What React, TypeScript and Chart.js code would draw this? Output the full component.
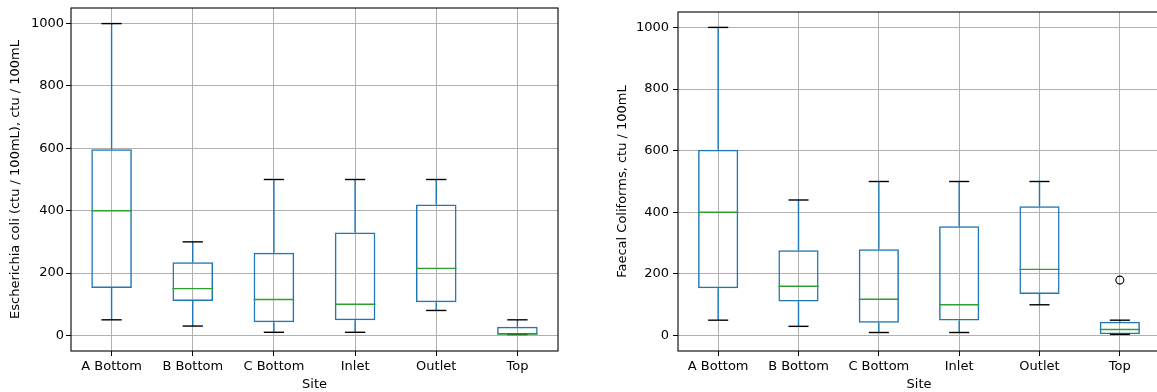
import { useEffect, useRef } from 'react';
import { Chart, registerables } from 'chart.js';

Chart.register(...registerables);

// Sampling sites along the x axis
const sites = ['A Bottom', 'B Bottom', 'C Bottom', 'Inlet', 'Outlet', 'Top'];

// Escherichia coli box statistics per site (ctu / 100mL)
const ecoliLow = [50, 30, 10, 10, 80, 3];
const ecoliQ1 = [152, 110, 42, 49, 106, 3];
const ecoliMedian = [400, 150, 115, 100, 215, 4];
const ecoliQ3 = [597, 235, 265, 330, 420, 28];
const ecoliHigh = [1000, 300, 500, 500, 500, 50];

// Faecal coliform box statistics per site (ctu / 100mL)
const faecalLow = [50, 30, 10, 10, 100, 4];
const faecalQ1 = [154, 111, 42, 49, 135, 4];
const faecalMedian = [400, 160, 118, 100, 215, 20];
const faecalQ3 = [603, 277, 280, 355, 420, 45];
const faecalHigh = [1000, 440, 500, 500, 500, 50];
const faecalOutliers = [{ x: 'Top', y: 180 }];

// Shared value axis
const yTickValues = [0, 200, 400, 600, 800, 1000];
const yMin = -50;
const yMax = 1050;

const BLUE = '#1f77b4';
const GREEN = '#2ca02c';
const CAP = '#000000';
const GRID = '#b0b0b0';
const FONT = 'DejaVu Sans';

type Stats = {
  low: number[];
  q1: number[];
  median: number[];
  q3: number[];
  high: number[];
};

// Draws whiskers, caps and medians on top of the floating-bar boxes
function boxWhiskerPlugin(stats: Stats) {
  return {
    id: 'boxWhiskers',
    afterDatasetsDraw(chart: any) {
      const { ctx, scales } = chart;
      const x = scales.x;
      const y = scales.y;
      const meta = chart.getDatasetMeta(0);
      const seg = (x1: number, y1: number, x2: number, y2: number, color: string) => {
        ctx.beginPath();
        ctx.strokeStyle = color;
        ctx.moveTo(x1, y1);
        ctx.lineTo(x2, y2);
        ctx.stroke();
      };
      ctx.save();
      ctx.lineWidth = 1.4;
      ctx.lineCap = 'butt';
      stats.median.forEach((_, i) => {
        const cx = x.getPixelForValue(i);
        const half = meta.data[i].width / 2;
        const capHalf = half / 2;
        const pLow = y.getPixelForValue(stats.low[i]);
        const pQ1 = y.getPixelForValue(stats.q1[i]);
        const pMed = y.getPixelForValue(stats.median[i]);
        const pQ3 = y.getPixelForValue(stats.q3[i]);
        const pHigh = y.getPixelForValue(stats.high[i]);
        seg(cx, pQ3, cx, pHigh, BLUE);
        seg(cx, pQ1, cx, pLow, BLUE);
        seg(cx - capHalf, pHigh, cx + capHalf, pHigh, CAP);
        seg(cx - capHalf, pLow, cx + capHalf, pLow, CAP);
        seg(cx - half, pMed, cx + half, pMed, GREEN);
      });
      ctx.restore();
    },
    afterDraw(chart: any) {
      const { ctx, chartArea } = chart;
      ctx.save();
      ctx.strokeStyle = '#000';
      ctx.lineWidth = 1.1;
      ctx.strokeRect(chartArea.left, chartArea.top, chartArea.right - chartArea.left, chartArea.bottom - chartArea.top);
      ctx.restore();
    },
  };
}

type PanelProps = {
  stats: Stats;
  outliers: { x: string; y: number }[];
  yTitle: string;
  axisWidth: number;
  titleGap: number;
  tickPad: number;
  padTop: number;
  padRight: number;
  width: number;
  left: number;
};

function BoxPanel(props: PanelProps) {
  const ref = useRef<HTMLCanvasElement>(null);

  useEffect(() => {
    if (!ref.current) return;
    const { stats, outliers } = props;
    const chart = new Chart(ref.current, {
      type: 'bar',
      data: {
        labels: sites,
        datasets: [
          {
            type: 'bar',
            data: sites.map((_, i) => [stats.q1[i], stats.q3[i]]) as any,
            backgroundColor: 'rgba(0,0,0,0)',
            borderColor: BLUE,
            borderWidth: 1.5,
            borderSkipped: false,
            barPercentage: 0.5,
            categoryPercentage: 1,
          },
          {
            type: 'scatter',
            data: outliers as any,
            pointRadius: 4,
            pointBorderColor: '#000',
            pointBackgroundColor: 'rgba(0,0,0,0)',
            pointBorderWidth: 1.1,
          } as any,
        ],
      },
      options: {
        responsive: false,
        animation: false,
        layout: { padding: { top: props.padTop, right: props.padRight, left: 0, bottom: 0 } },
        plugins: {
          legend: { display: false },
          tooltip: { enabled: false },
        },
        scales: {
          x: {
            type: 'category',
            offset: true,
            grid: {
              offset: false,
              color: GRID,
              lineWidth: 1,
              tickColor: '#000',
              tickLength: 5,
              tickWidth: 1,
            },
            border: { display: false },
            ticks: {
              color: '#000',
              font: { family: FONT, size: 13 },
              padding: 3,
              maxRotation: 0,
              autoSkip: false,
            },
            title: {
              display: true,
              text: 'Site',
              color: '#000',
              font: { family: FONT, size: 13 },
              padding: { top: 0, bottom: 0 },
            },
            afterFit(scale: any) {
              scale.height = 41;
              scale.paddingLeft = 0;
              scale.paddingRight = 0;
            },
          },
          y: {
            type: 'linear',
            min: yMin,
            max: yMax,
            grid: {
              color: GRID,
              lineWidth: 1,
              tickColor: '#000',
              tickLength: 5,
              tickWidth: 1,
            },
            border: { display: false },
            ticks: {
              color: '#000',
              font: { family: FONT, size: 13 },
              padding: props.tickPad,
              callback: (v: number | string) => String(v),
            },
            title: {
              display: true,
              text: props.yTitle,
              color: '#000',
              font: { family: FONT, size: 13 },
              padding: { top: props.titleGap, bottom: 0 },
            },
            afterBuildTicks(scale: any) {
              scale.ticks = yTickValues.map((v) => ({ value: v }));
            },
            afterFit(scale: any) {
              scale.width = props.axisWidth;
              scale.paddingTop = 0;
              scale.paddingBottom = 0;
            },
          },
        },
      } as any,
      plugins: [boxWhiskerPlugin(stats)],
    });
    return () => chart.destroy();
  }, []);

  return (
    <canvas
      ref={ref}
      width={props.width}
      height={392}
      style={{ position: 'absolute', left: props.left, top: 0, width: props.width, height: 392 }}
    />
  );
}

export default function App() {
  return (
    <div
      style={{
        position: 'fixed',
        left: 0,
        top: 0,
        width: 1157,
        height: 392,
        overflow: 'hidden',
        background: '#fff',
      }}
    >
      <BoxPanel
        stats={{ low: ecoliLow, q1: ecoliQ1, median: ecoliMedian, q3: ecoliQ3, high: ecoliHigh }}
        outliers={[]}
        yTitle="Escherichia coli (ctu / 100mL), ctu / 100mL"
        axisWidth={71}
        titleGap={8}
        tickPad={2}
        padTop={8}
        padRight={17}
        width={575}
        left={0}
      />
      <BoxPanel
        stats={{ low: faecalLow, q1: faecalQ1, median: faecalMedian, q3: faecalQ3, high: faecalHigh }}
        outliers={faecalOutliers}
        yTitle="Faecal Coliforms, ctu / 100mL"
        axisWidth={93}
        titleGap={30}
        tickPad={4}
        padTop={12}
        padRight={25}
        width={600}
        left={585}
      />
    </div>
  );
}
